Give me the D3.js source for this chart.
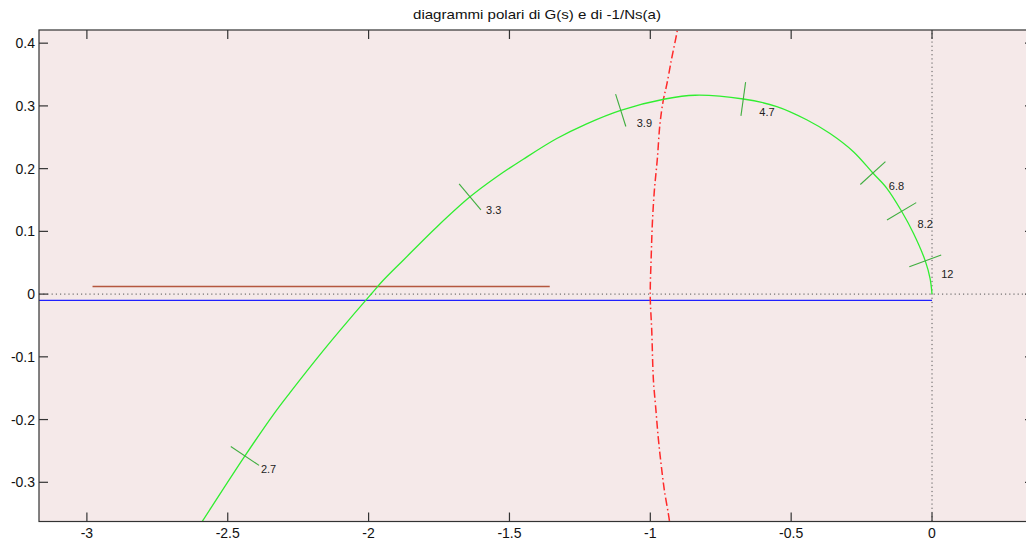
<!DOCTYPE html>
<html>
<head>
<meta charset="utf-8">
<script src="https://cdn.jsdelivr.net/npm/d3@7/dist/d3.min.js"></script>
<style>
  html, body { margin: 0; padding: 0; background: #ffffff; }
  svg { display: block; }
  text { font-family: "Liberation Sans", Arial, Helvetica, sans-serif; }
</style>
</head>
<body>
<svg id="chart" width="1026" height="541"></svg>
<script>
// ---- data ----
const title = "diagrammi polari di G(s) e di -1/Ns(a)";

// polar plot of G(jw) (green)
const gX = [-2.633, -2.587, -2.439, -2.338, -2.279, -2.161, -2.066, -1.989, -1.948, -1.877, -1.758,
            -1.640, -1.545, -1.451, -1.332, -1.226, -1.105, -0.948, -0.841, -0.670, -0.551,
            -0.445, -0.362, -0.279, -0.210, -0.161, -0.108, -0.066, -0.024, -0.007, 0.000];
const gY = [-0.392, -0.360, -0.258, -0.192, -0.157, -0.090, -0.039, 0.001, 0.022, 0.054, 0.107,
            0.155, 0.187, 0.215, 0.248, 0.2715, 0.293, 0.311, 0.317, 0.311, 0.299,
            0.278, 0.256, 0.227, 0.193, 0.169, 0.132, 0.097, 0.053, 0.025, 0.000];

// frequency markers on G(jw)
const markLabels = ["2.7", "3.3", "3.9", "4.7", "6.8", "8.2", "12"];
const markX = [-2.439, -1.640, -1.105, -0.670, -0.210, -0.108, -0.024];
const markY = [-0.258, 0.155, 0.293, 0.311, 0.193, 0.132, 0.053];

// -1/N(a) (red dash-dot)
const rX = [-0.900, -0.904, -0.924, -0.942, -0.954, -0.966, -0.975, -0.986, -0.993, -0.997, -1.000,
            -1.000, -0.995, -0.989, -0.981, -0.972, -0.962, -0.950, -0.936, -0.930];
const rY = [0.437, 0.421, 0.376, 0.333, 0.309, 0.270, 0.216, 0.163, 0.110, 0.057, 0.014,
            -0.010, -0.057, -0.137, -0.180, -0.228, -0.270, -0.313, -0.350, -0.368];

// horizontal segments
const brownX = [-2.98, -1.357];
const brownY = [0.012, 0.012];
const blueX = [-3.30, 0.0];
const blueY = [-0.010, -0.010];

// axes
const xDomain = [-3.17, 0.362];
const yDomain = [-0.3625, 0.421];
const xTicks = [-3, -2.5, -2, -1.5, -1, -0.5, 0];
const xTickLabels = ["-3", "-2.5", "-2", "-1.5", "-1", "-0.5", "0"];
const yTicks = [-0.3, -0.2, -0.1, 0, 0.1, 0.2, 0.3, 0.4];
const yTickLabels = ["-0.3", "-0.2", "-0.1", "0", "0.1", "0.2", "0.3", "0.4"];

// ---- layout ----
const L = 39, R = 1034, T = 30, B = 521.5;
const svg = d3.select("#chart");
const x = d3.scaleLinear().domain(xDomain).range([L, R]);
const y = d3.scaleLinear().domain(yDomain).range([B, T]);

svg.append("defs").append("clipPath").attr("id", "clip")
  .append("rect").attr("x", L).attr("y", T).attr("width", R - L).attr("height", B - T);

svg.append("rect").attr("x", L).attr("y", T).attr("width", R - L).attr("height", B - T)
  .attr("fill", "#f5e9e9");

const plot = svg.append("g").attr("clip-path", "url(#clip)");
const line = d3.line().x(d => x(d[0])).y(d => y(d[1]));
const smooth = d3.line().curve(d3.curveCatmullRom.alpha(0.5)).x(d => x(d[0])).y(d => y(d[1]));
const zip = (a, b) => a.map((v, i) => [v, b[i]]);

// dotted zero lines
plot.append("path").attr("d", line([[xDomain[0], 0], [xDomain[1], 0]]))
  .attr("stroke", "#555").attr("stroke-width", 1).attr("stroke-dasharray", "1.2,3").attr("fill", "none");
plot.append("path").attr("d", line([[0, yDomain[0]], [0, yDomain[1]]]))
  .attr("stroke", "#555").attr("stroke-width", 1).attr("stroke-dasharray", "1.2,3").attr("fill", "none");

// blue and brown lines
plot.append("path").attr("d", line(zip(blueX, blueY)))
  .attr("stroke", "#2020ff").attr("stroke-width", 1.4).attr("fill", "none");
plot.append("path").attr("d", line(zip(brownX, brownY)))
  .attr("stroke", "#b5573f").attr("stroke-width", 1.4).attr("fill", "none");

// red -1/N curve
plot.append("path").attr("d", smooth(zip(rX, rY)))
  .attr("stroke", "#ff2a2a").attr("stroke-width", 1.5).attr("stroke-dasharray", "8,3,1.5,3")
  .attr("fill", "none");

// green G curve
const gPts = zip(gX, gY);
plot.append("path").attr("d", smooth(gPts))
  .attr("stroke", "#30ee30").attr("stroke-width", 1.3).attr("fill", "none");

// markers: short segments normal to the curve + labels
const gPix = gPts.map(p => [x(p[0]), y(p[1])]);
markLabels.forEach((lab, k) => {
  const cx = x(markX[k]), cy = y(markY[k]);
  let best = 0, bd = Infinity;
  gPix.forEach((p, i) => { const d = (p[0] - cx) ** 2 + (p[1] - cy) ** 2; if (d < bd) { bd = d; best = i; } });
  const a = gPix[Math.max(0, best - 1)], b = gPix[Math.min(gPix.length - 1, best + 1)];
  let tx = b[0] - a[0], ty = b[1] - a[1];
  const n = Math.hypot(tx, ty); tx /= n; ty /= n;
  const nx = -ty, ny = tx, h = 17;
  plot.append("line")
    .attr("x1", cx - nx * h).attr("y1", cy - ny * h)
    .attr("x2", cx + nx * h).attr("y2", cy + ny * h)
    .attr("stroke", "#3fae3f").attr("stroke-width", 1.1);
  plot.append("text").attr("x", cx + 16).attr("y", cy + 17)
    .attr("font-size", 11).attr("fill", "#222").text(lab);
});

// axes box
svg.append("rect").attr("x", L).attr("y", T).attr("width", R - L).attr("height", B - T)
  .attr("fill", "none").attr("stroke", "#333").attr("stroke-width", 1.2);

// ticks
const tl = 9;
const axg = svg.append("g").attr("stroke", "#333").attr("stroke-width", 1.2);
xTicks.forEach(t => {
  axg.append("line").attr("x1", x(t)).attr("x2", x(t)).attr("y1", B).attr("y2", B - tl);
  axg.append("line").attr("x1", x(t)).attr("x2", x(t)).attr("y1", T).attr("y2", T + tl);
});
yTicks.forEach(t => {
  axg.append("line").attr("x1", L).attr("x2", L + tl).attr("y1", y(t)).attr("y2", y(t));
  axg.append("line").attr("x1", R).attr("x2", R - tl).attr("y1", y(t)).attr("y2", y(t));
});

// tick labels
svg.append("g").selectAll("text").data(xTicks).join("text")
  .attr("x", d => x(d)).attr("y", 538).attr("text-anchor", "middle")
  .attr("font-size", 14).attr("fill", "#111").text((d, i) => xTickLabels[i]);
svg.append("g").selectAll("text").data(yTicks).join("text")
  .attr("x", 35).attr("y", d => y(d) + 5).attr("text-anchor", "end")
  .attr("font-size", 14).attr("fill", "#111").text((d, i) => yTickLabels[i]);

// title
svg.append("text").attr("x", 537).attr("y", 19).attr("text-anchor", "middle")
  .attr("font-size", 13).attr("fill", "#111")
  .attr("textLength", 248).attr("lengthAdjust", "spacingAndGlyphs").text(title);
</script>
</body>
</html>
